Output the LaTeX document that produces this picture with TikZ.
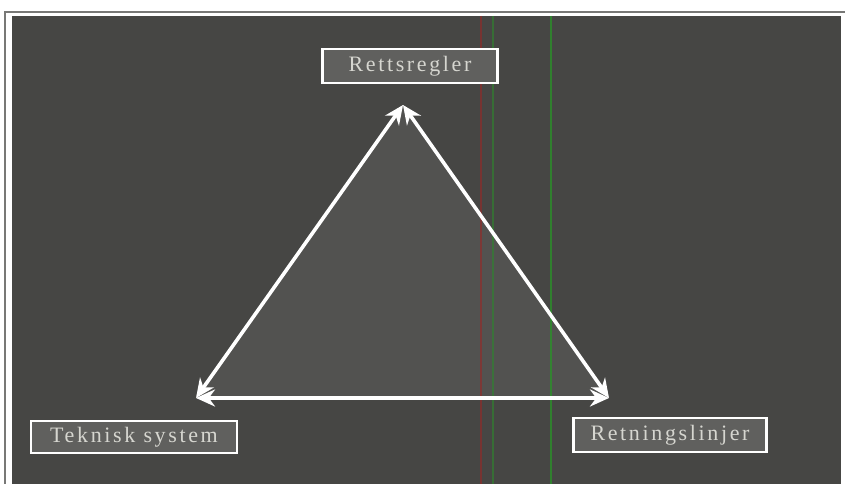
\documentclass[tikz,border=0pt]{standalone}
\usepackage{fontspec}
\newfontfamily\slidefont[LetterSpace=12]{Liberation Serif}
\usetikzlibrary{arrows.meta, positioning}
\definecolor{panelgray}{RGB}{70,70,68}
\definecolor{trigray}{RGB}{82,82,80}
\definecolor{boxgray}{RGB}{96,96,94}
\definecolor{textgray}{RGB}{214,214,208}
\definecolor{framegray}{RGB}{120,120,118}

\begin{document}
\begin{tikzpicture}[x=1pt, y=-1pt, font=\slidefont\fontsize{22}{24}\selectfont,
    labelbox/.style={draw=white, line width=2.8pt, fill=boxgray, text=textgray, minimum height=34pt, inner sep=2pt},
    whitearrow/.style={draw=white, line width=3.6pt, {Stealth[length=19pt, width=17pt]}-{Stealth[length=19pt, width=17pt]}}]
  \useasboundingbox (0,0) rectangle (847,484);
  % slide frame
  \fill[white] (0,0) rectangle (847,484);
  \draw[framegray, line width=2pt] (4,12) -- (845,12);
  \draw[framegray, line width=2pt] (5,12) -- (5,484);
  \fill[panelgray] (12,16) rectangle (841,484);
  % corners of the triangle
  \coordinate (apex) at (403,105);
  \coordinate (leftc) at (196,398);
  \coordinate (rightc) at (609,398);
  \fill[trigray] (apex) -- (leftc) -- (rightc) -- cycle;
  % scan streaks
  \draw[red!45!panelgray, line width=1.2pt, opacity=0.6] (481,16) -- (481,484);
  \draw[green!35!panelgray, line width=1.2pt, opacity=0.6] (493,16) -- (493,484);
  \draw[green!45!panelgray, line width=1.4pt, opacity=0.7] (551,16) -- (551,484);
  % labels
  \node[labelbox, minimum width=175pt] (regler) at (410,66) {Rettsregler};
  \node[labelbox, minimum width=206pt, minimum height=32pt] (teknisk) at (134,437) {Teknisk system};
  \node[labelbox, minimum width=193pt] (linjer) at (670,435) {Retningslinjer};
  % arrows
  \draw[whitearrow] (apex) -- (leftc);
  \draw[whitearrow] (apex) -- (rightc);
  \draw[whitearrow] (leftc) -- (rightc);
\end{tikzpicture}
\end{document}
